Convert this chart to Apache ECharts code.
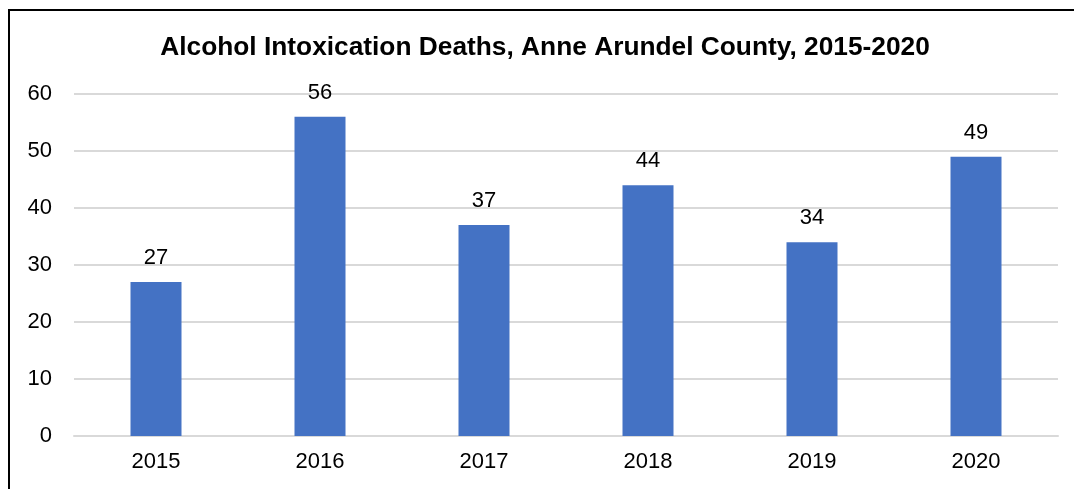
<!DOCTYPE html>
<html>
<head>
<meta charset="utf-8">
<style>
  html, body { margin: 0; padding: 0; background: #fff; }
  #chart { width: 1074px; height: 489px; }
</style>
<script src="https://cdn.jsdelivr.net/npm/echarts@6/dist/echarts.min.js"></script>
</head>
<body>
<div id="chart"></div>
<script>
// Alcohol intoxication deaths by year, Anne Arundel County
const years = ['2015', '2016', '2017', '2018', '2019', '2020'];
const deaths = [27, 56, 37, 44, 34, 49];
const yTicks = { min: 0, max: 60, interval: 10 };

const chart = echarts.init(document.getElementById('chart'), null, { renderer: 'canvas' });

chart.setOption({
  backgroundColor: '#ffffff',
  animation: false,
  textStyle: { fontFamily: '"Liberation Sans", Arial, sans-serif' },
  title: {
    text: 'Alcohol Intoxication Deaths, Anne Arundel County, 2015-2020',
    left: 540,
    top: 30,
    textAlign: 'center',
    textStyle: {
      fontFamily: '"Liberation Sans", Arial, sans-serif',
      fontWeight: 'bold',
      fontSize: 26.3,
      color: '#000000'
    }
  },
  grid: { left: 74, right: 16, top: 94, bottom: 53, containLabel: false },
  xAxis: {
    type: 'category',
    data: years,
    axisLine: { show: true, lineStyle: { color: '#d9d9d9', width: 2 } },
    axisTick: { show: false },
    axisLabel: { color: '#000000', fontSize: 22, margin: 15 }
  },
  yAxis: {
    type: 'value',
    min: yTicks.min,
    max: yTicks.max,
    interval: yTicks.interval,
    axisLine: { show: false },
    axisTick: { show: false },
    splitLine: { lineStyle: { color: '#d9d9d9', width: 2 } },
    axisLabel: { color: '#000000', fontSize: 22, margin: 22 }
  },
  series: [{
    type: 'bar',
    data: deaths,
    barWidth: 51,
    itemStyle: { color: '#4472c4' },
    label: {
      show: true,
      position: 'top',
      distance: 13,
      color: '#000000',
      fontSize: 22
    }
  }],
  graphic: [
    { type: 'rect', shape: { x: 8, y: 9, width: 2, height: 480 }, style: { fill: '#000000' }, silent: true },
    { type: 'rect', shape: { x: 8, y: 9, width: 1066, height: 2 }, style: { fill: '#000000' }, silent: true }
  ]
});
</script>
</body>
</html>
